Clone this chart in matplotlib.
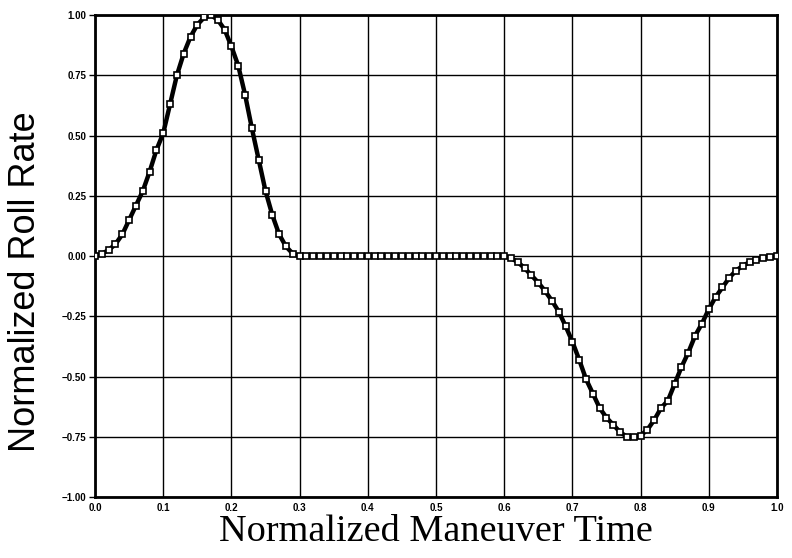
import numpy as np
import matplotlib.pyplot as plt

# normalized maneuver time and roll rate
time = [0.00, 0.01, 0.02, 0.03, 0.04, 0.05, 0.06, 0.07, 0.08, 0.09,
        0.10, 0.11, 0.12, 0.13, 0.14, 0.15, 0.16, 0.17, 0.18, 0.19,
        0.20, 0.21, 0.22, 0.23, 0.24, 0.25, 0.26, 0.27, 0.28, 0.29,
        0.30, 0.31, 0.32, 0.33, 0.34, 0.35, 0.36, 0.37, 0.38, 0.39,
        0.40, 0.41, 0.42, 0.43, 0.44, 0.45, 0.46, 0.47, 0.48, 0.49,
        0.50, 0.51, 0.52, 0.53, 0.54, 0.55, 0.56, 0.57, 0.58, 0.59,
        0.60, 0.61, 0.62, 0.63, 0.64, 0.65, 0.66, 0.67, 0.68, 0.69,
        0.70, 0.71, 0.72, 0.73, 0.74, 0.75, 0.76, 0.77, 0.78, 0.79,
        0.80, 0.81, 0.82, 0.83, 0.84, 0.85, 0.86, 0.87, 0.88, 0.89,
        0.90, 0.91, 0.92, 0.93, 0.94, 0.95, 0.96, 0.97, 0.98, 0.99,
        1.00]
roll_rate = [0.00, 0.01, 0.025, 0.05, 0.09, 0.15, 0.21, 0.27, 0.35, 0.44,
             0.51, 0.63, 0.75, 0.84, 0.91, 0.96, 0.99, 1.00, 0.98, 0.94,
             0.87, 0.79, 0.67, 0.53, 0.40, 0.27, 0.17, 0.09, 0.04, 0.01,
             0.00, 0.00, 0.00, 0.00, 0.00, 0.00, 0.00, 0.00, 0.00, 0.00,
             0.00, 0.00, 0.00, 0.00, 0.00, 0.00, 0.00, 0.00, 0.00, 0.00,
             0.00, 0.00, 0.00, 0.00, 0.00, 0.00, 0.00, 0.00, 0.00, 0.00,
             0.00, -0.008, -0.025, -0.05, -0.08, -0.11, -0.145, -0.185, -0.23, -0.29,
             -0.355, -0.43, -0.51, -0.57, -0.63, -0.67, -0.70, -0.73, -0.75, -0.75,
             -0.745, -0.72, -0.68, -0.63, -0.60, -0.53, -0.46, -0.40, -0.33, -0.28,
             -0.22, -0.17, -0.13, -0.09, -0.06, -0.04, -0.025, -0.015, -0.007, -0.002,
             0.00]

xticks = [0.0, 0.1, 0.2, 0.3, 0.4, 0.5, 0.6, 0.7, 0.8, 0.9, 1.0]
yticks = [-1.00, -0.75, -0.50, -0.25, 0.00, 0.25, 0.50, 0.75, 1.00]

fig = plt.figure(figsize=(7.92, 5.58), dpi=100)
ax = fig.add_axes([0.12, 0.109, 0.861, 0.864])

ax.plot(time, roll_rate, color='black', lw=3.2, marker='s', ms=4,
        mfc='white', mec='black', mew=1.2, zorder=3)

ax.set_xlim(0, 1)
ax.set_ylim(-1, 1)
ax.set_xticks(xticks)
ax.set_yticks(yticks)
ax.set_xticklabels([f'{v:.1f}' for v in xticks], fontsize=7, fontweight='bold',
                   family='Liberation Sans')
ax.set_yticklabels([f'{v:.2f}'.replace('-', '\u2212') for v in yticks], fontsize=7,
                   fontweight='bold', family='Liberation Sans')
ax.tick_params(axis='y', length=4, width=1, direction='out', pad=2)
ax.tick_params(axis='x', length=0, pad=4)
ax.grid(True, color='black', lw=1.0)
for s in ax.spines.values():
    s.set_linewidth(2.0)

ax.set_xlabel('Normalized Maneuver Time', fontsize=27.5, family='Liberation Serif')
ax.xaxis.set_label_coords(0.5, -0.036)
ax.set_ylabel('Normalized Roll Rate', fontsize=26, family='Liberation Sans')
ax.yaxis.set_label_coords(-0.076, 0.446)

fig.savefig('out.png', dpi=100)
